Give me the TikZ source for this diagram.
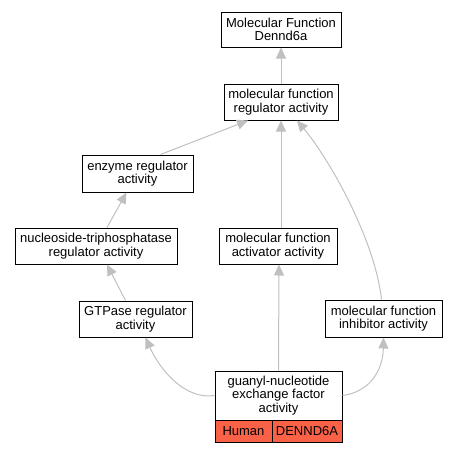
\documentclass[tikz,border=0pt]{standalone}
\usepackage{fontspec}
\setmainfont{Liberation Sans}
\usetikzlibrary{arrows.meta}
\definecolor{edgegray}{RGB}{192,192,192}
\definecolor{tomatofill}{RGB}{250,98,72}
\begin{document}
\begin{tikzpicture}[x=1pt,y=-1pt,
  box/.style={draw=black,line width=1pt,fill=white,inner sep=0pt,align=center,
    font=\fontsize{13}{13.5}\selectfont},
  cell/.style={draw=black,line width=1pt,fill=tomatofill,inner sep=0pt,
    font=\fontsize{13}{13.5}\selectfont},
  edge/.style={draw=edgegray,line width=1pt,-{Triangle[length=11pt,width=10pt]}}]
\useasboundingbox (0,0) rectangle (459,453);
\node[box,minimum width=120pt,minimum height=35pt] (mf) at (281,29.5) {Molecular Function\\Dennd6a};
\node[box,minimum width=114pt,minimum height=36pt] (mfra) at (281,102) {molecular function\\regulator activity};
\node[box,minimum width=111pt,minimum height=37pt] (enz) at (137.5,173.5) {enzyme regulator\\activity};
\node[box,minimum width=162pt,minimum height=36pt] (nuc) at (96,246) {nucleoside-triphosphatase\\regulator activity};
\node[box,minimum width=118pt,minimum height=36pt] (act) at (278,246) {molecular function\\activator activity};
\node[box,minimum width=113pt,minimum height=36pt] (gtp) at (135.5,319) {GTPase regulator\\activity};
\node[box,minimum width=117pt,minimum height=37pt] (inh) at (383.5,318.5) {molecular function\\inhibitor activity};
\node[box,minimum width=127pt,minimum height=49pt] (gua) at (278.5,395.5) {guanyl-nucleotide\\exchange factor\\activity};
\node[cell,minimum width=57pt,minimum height=22pt] (hum) at (243.5,431) {Human};
\node[cell,minimum width=70pt,minimum height=22pt] (gene) at (307,431) {DENND6A};
\draw[edge] (mfra.north) -- (mf.south);
\draw[edge] ([xshift=-33pt]enz.north east) -- ([xshift=-33pt]mfra.south);
\draw[edge] ([xshift=11pt]nuc.north) -- ([xshift=-11pt]enz.south);
\draw[edge] ([xshift=-10pt]gtp.north) -- ([xshift=11pt]nuc.south);
\draw[edge] ([xshift=3pt]act.north) -- (mfra.south);
\draw[edge] ([xshift=-2pt]inh.north) .. controls (375,240) and (330,160) .. ([xshift=16pt]mfra.south);
\draw[edge] (gua.west) .. controls (185,400) and (160,370) .. ([xshift=10pt]gtp.south);
\draw[edge] (gua.north) -- ([xshift=1pt]act.south);
\draw[edge] (gua.east) .. controls (370,392) and (383,370) .. (inh.south);
\end{tikzpicture}
\end{document}
